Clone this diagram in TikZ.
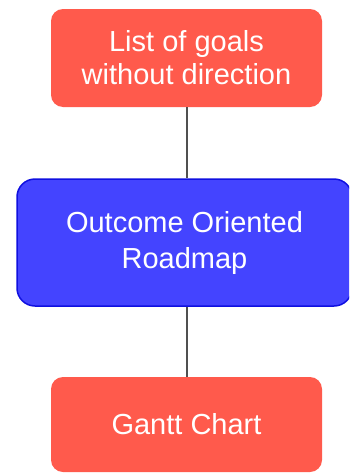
\documentclass[tikz,border=0pt]{standalone}
\usepackage{fontspec}
\setmainfont{Liberation Sans}
\definecolor{boxred}{HTML}{FF5A4C}
\definecolor{boxblue}{HTML}{4444FF}
\definecolor{boxblueline}{HTML}{1010E0}
\definecolor{linkgray}{HTML}{505050}
\begin{document}
\begin{tikzpicture}[x=1pt,y=1pt,
  redbox/.style={fill=boxred, draw=none, rounded corners=12pt, minimum width=271pt,
    text=white, align=center, inner sep=0pt, font=\fontsize{29}{33}\selectfont},
  bluebox/.style={fill=boxblue, draw=boxblueline, line width=1.5pt, rounded corners=18pt,
    minimum width=335pt, minimum height=127pt, text=white, align=center, inner sep=0pt,
    font=\fontsize{29}{36}\selectfont},
  link/.style={draw=linkgray, line width=2pt}]
  \useasboundingbox (0,0) rectangle (349,-474);
  \clip (0,0) rectangle (349,-474);
  \node[redbox, minimum height=98pt] (goals) at (186.5,-58) {List of goals\\without direction};
  \node[bluebox] (roadmap) at (184.5,-242.5) {Outcome Oriented\\Roadmap};
  \node[redbox, minimum height=95pt] (gantt) at (186.5,-424.5) {Gantt Chart};
  \draw[link] (goals.south) -- (goals.south |- roadmap.north);
  \draw[link] (gantt.north |- roadmap.south) -- (gantt.north);
\end{tikzpicture}
\end{document}
